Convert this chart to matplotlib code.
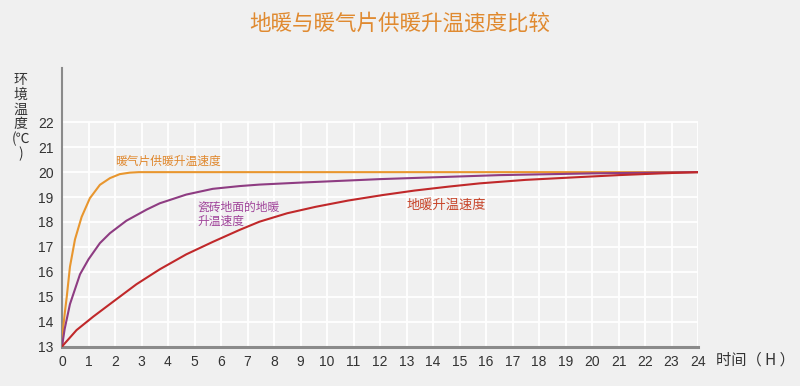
import numpy as np
import matplotlib.pyplot as plt

plt.rcParams['font.family'] = ['Noto Sans CJK SC', 'DejaVu Sans']

# hours / temperature
hours = list(range(0, 25))
temps_y = list(range(13, 23))

# 暖气片 radiator
rad_x = [0, 0.05, 0.1, 0.18, 0.3, 0.49, 0.74, 1.05, 1.43, 1.81, 2.18, 2.56, 2.9, 24]
rad_y = [13, 13.8, 14.3, 15.0, 16.2, 17.3, 18.2, 18.95, 19.49, 19.76, 19.92, 19.98, 20, 20]

# 瓷砖地面的地暖 tile floor heating
tile_x = [0, 0.1, 0.3, 0.68, 1.0, 1.43, 1.81, 2.43, 3.2, 3.69, 4.69, 5.69, 6.7, 7.45, 9.0, 12.0, 16.5, 20.0, 24]
tile_y = [13, 13.7, 14.7, 15.9, 16.5, 17.15, 17.55, 18.05, 18.5, 18.75, 19.1, 19.33, 19.44, 19.5, 19.58, 19.72, 19.88, 19.95, 20]

# 地暖 floor heating
floor_x = [0, 0.55, 1.18, 1.93, 2.81, 3.69, 4.69, 5.69, 6.7, 7.45, 8.5, 9.58, 10.8, 12.1, 13.3, 14.6, 15.77, 17.5, 19.5, 21.0, 22.6, 24]
floor_y = [13, 13.66, 14.2, 14.8, 15.5, 16.1, 16.7, 17.2, 17.68, 18.01, 18.35, 18.61, 18.86, 19.08, 19.26, 19.42, 19.55, 19.69, 19.8, 19.88, 19.95, 20]

bg = '#f0f0f0'
fig = plt.figure(figsize=(8, 3.86), dpi=100, facecolor=bg)
ax = fig.add_axes([0.0775, 0.1023, 0.795, 0.7215], facecolor=bg)

# white grid, only up to 22
ax.vlines(hours[1:], 13, 22, color='white', lw=1.3, zorder=1)
ax.hlines(temps_y[1:], 0, 24, color='white', lw=1.3, zorder=1)

ax.plot(rad_x, rad_y, color='#e8962e', lw=1.5, zorder=3)
ax.plot(tile_x, tile_y, color='#8e3c82', lw=1.5, zorder=3)
ax.plot(floor_x, floor_y, color='#c0282a', lw=1.5, zorder=3)

ax.set_xlim(0, 24)
ax.set_ylim(13, 24.18)
ax.set_xticks(hours)
ax.set_yticks(temps_y)
ax.tick_params(length=0, labelsize=10, labelcolor='#333333')
ax.tick_params(axis='x', pad=6)
ax.tick_params(axis='y', pad=6)
for lab in ax.get_xticklabels() + ax.get_yticklabels():
    lab.set_family(['Liberation Sans', 'DejaVu Sans'])

for s in ['top', 'right']:
    ax.spines[s].set_visible(False)
ax.spines['left'].set_color('#8a8a8a')
ax.spines['left'].set_linewidth(1.5)
ax.spines['bottom'].set_color('#8a8a8a')
ax.spines['bottom'].set_linewidth(2.2)

ax.text(2.0, 20.45, '暖气片供暖升温速度', color='#e0882e', fontsize=8.5, va='center')
ax.text(5.1, 18.3, '瓷砖地面的地暖\n升温速度', color='#a0449a', fontsize=8.5,
        va='center', linespacing=1.15)
ax.text(13.0, 18.65, '地暖升温速度', color='#c8452a', fontsize=9.5, va='center')

fig.text(0.5, 0.938, '地暖与暖气片供暖升温速度比较', color='#e08a30',
         fontsize=15.5, ha='center', va='center')
fig.text(0.895, 0.067, '时间（ H ）', color='#333333', fontsize=11,
         ha='left', va='center')
fig.text(0.026, 0.81, '环\n境\n温\n度\n(℃\n)', color='#333333', fontsize=10,
         ha='center', va='top', linespacing=1.05)

fig.savefig('out.png', dpi=100, facecolor=bg)
